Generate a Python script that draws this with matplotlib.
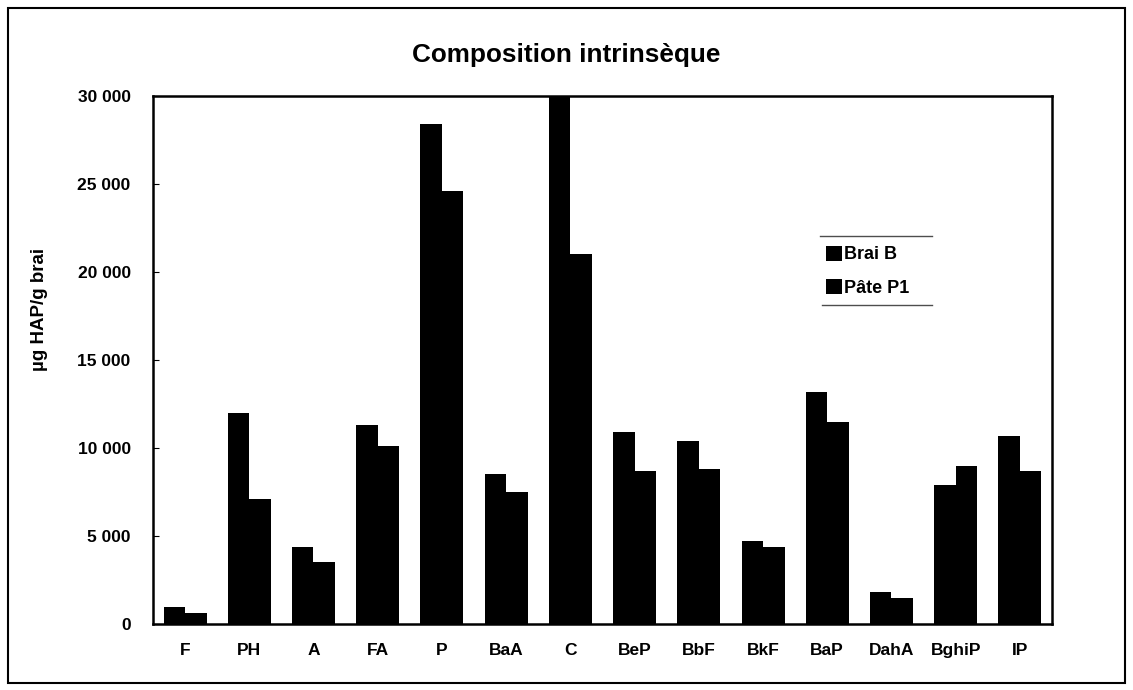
import numpy as np
import matplotlib.pyplot as plt
from matplotlib.ticker import FuncFormatter
from matplotlib.patches import Rectangle
from matplotlib.lines import Line2D

plt.rcParams['font.family'] = ['Liberation Sans', 'DejaVu Sans']

hap = ["F", "PH", "A", "FA", "P", "BaA", "C", "BeP", "BbF", "BkF", "BaP", "DahA", "BghiP", "IP"]
brai_b = [950, 12000, 4400, 11300, 28400, 8500, 31000, 10900, 10400, 4700, 13200, 1800, 7900, 10700]
pate_p1 = [650, 7100, 3500, 10100, 24600, 7500, 21000, 8700, 8800, 4400, 11500, 1450, 9000, 8700]

fig = plt.figure(figsize=(11.33, 6.9), dpi=100)
ax = fig.add_axes([0.135, 0.0957, 0.7935, 0.7653])

x = np.arange(len(hap))
w = 0.335
ax.bar(x - w / 2, brai_b, w, color='black', label='Brai B')
ax.bar(x + w / 2, pate_p1, w, color='black', label='Pâte P1')

ax.set_xlim(-0.5, len(hap) - 0.5)
ax.set_ylim(0, 30000)
ax.set_yticks(np.arange(0, 30001, 5000))
ax.yaxis.set_major_formatter(FuncFormatter(lambda v, p: f"{int(v):,}".replace(",", " ")))
ax.set_xticks(x)
ax.set_xticklabels(hap)
ax.tick_params(axis='y', direction='in', length=4, labelsize=12.5, pad=16)
ax.tick_params(axis='x', length=0, labelsize=12.5, pad=14)
for lab in ax.get_xticklabels() + ax.get_yticklabels():
    lab.set_fontweight('bold')
for s in ax.spines.values():
    s.set_linewidth(1.8)

ax.set_ylabel("µg HAP/g brai", fontsize=13.5, fontweight='bold')
ax.yaxis.set_label_coords(-0.117, 0.595)
fig.text(0.5, 0.92, "Composition intrinsèque", ha='center', va='center', fontsize=18.8, fontweight='bold')

leg = ax.legend(loc='upper left', bbox_to_anchor=(0.73, 0.747), frameon=False,
                prop={'size': 13, 'weight': 'bold'},
                handlelength=0.9, handleheight=0.9, handletextpad=0.15, labelspacing=0.88)

fig.add_artist(Line2D([820 / 1133, 932 / 1133], [1 - 236 / 690, 1 - 236 / 690], color='0.3', lw=1))
fig.add_artist(Line2D([822 / 1133, 932 / 1133], [1 - 305 / 690, 1 - 305 / 690], color='0.3', lw=1))

fig.patches.append(Rectangle((0.007, 0.01), 0.986, 0.978, transform=fig.transFigure,
                             fill=False, edgecolor='black', linewidth=1.5))

fig.savefig("out.png", dpi=100)
